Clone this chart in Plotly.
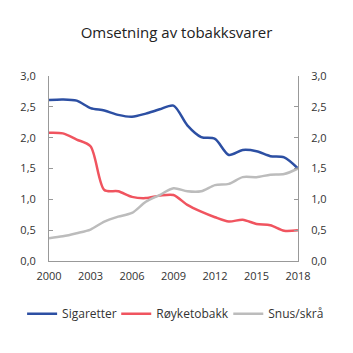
import plotly.graph_objects as go

years = list(range(2000, 2019))
sigaretter = [2.61, 2.62, 2.60, 2.48, 2.44, 2.37, 2.34, 2.39, 2.46, 2.52, 2.20, 2.01, 1.98, 1.72, 1.80, 1.78, 1.70, 1.68, 1.50]
royketobakk = [2.08, 2.07, 1.97, 1.86, 1.15, 1.13, 1.04, 1.02, 1.06, 1.07, 0.91, 0.80, 0.71, 0.64, 0.67, 0.60, 0.58, 0.49, 0.50]
snus = [0.37, 0.40, 0.45, 0.51, 0.64, 0.72, 0.78, 0.96, 1.07, 1.18, 1.13, 1.13, 1.23, 1.25, 1.36, 1.36, 1.40, 1.41, 1.50]
yticks = [0, 0.5, 1.0, 1.5, 2.0, 2.5, 3.0]
ytick_labels = ["0,0", "0,5", "1,0", "1,5", "2,0", "2,5", "3,0"]
xticks = [2000, 2003, 2006, 2009, 2012, 2015, 2018]

font = "Open Sans"
fig = go.Figure()
series = [("Sigaretter", sigaretter, "#2c4fa3", "legend"),
          ("Røyketobakk", royketobakk, "#f0545f", "legend2"),
          ("Snus/skrå", snus, "#bcbcbc", "legend3")]
for name, vals, col, leg in series:
    fig.add_trace(go.Scatter(x=years, y=vals, name=name, mode="lines", legend=leg,
                             line=dict(color=col, width=2.5, shape="spline", smoothing=0.8)))
fig.add_trace(go.Scatter(x=[years[0]], y=[None], yaxis="y2", showlegend=False,
                         mode="lines", hoverinfo="skip"))

axis_common = dict(range=[0, 3], tickvals=yticks, ticktext=ytick_labels,
                   showgrid=False, showline=True, linecolor="#999999", linewidth=1,
                   ticks="inside", ticklen=4, tickcolor="#999999", zeroline=False,
                   ticklabelstandoff=10,
                   tickfont=dict(family=font, size=11, color="#333333"))
leg_common = dict(orientation="h", y=-0.285, yanchor="middle", xanchor="left",
                  font=dict(family=font, size=12, color="#333333"),
                  bgcolor="rgba(0,0,0,0)")
fig.update_layout(
    width=353, height=353,
    margin=dict(l=49, r=55, t=76, b=92),
    paper_bgcolor="white", plot_bgcolor="white",
    title=dict(text="Omsetning av tobakksvarer", x=0.5, xanchor="center", y=0.908, yanchor="middle",
               font=dict(family=font, size=15, color="#222222")),
    xaxis=dict(range=[2000, 2018], tickvals=xticks, showgrid=False, showline=True,
               linecolor="#999999", linewidth=1, ticks="", zeroline=False,
               ticklabelstandoff=5,
               tickfont=dict(family=font, size=11, color="#333333")),
    yaxis=dict(side="left", **axis_common),
    yaxis2=dict(side="right", overlaying="y", **axis_common),
    legend=dict(x=-0.108, **leg_common),
    legend2=dict(x=0.27, **leg_common),
    legend3=dict(x=0.72, **leg_common),
    showlegend=True,
)
fig.write_html("out.html")
